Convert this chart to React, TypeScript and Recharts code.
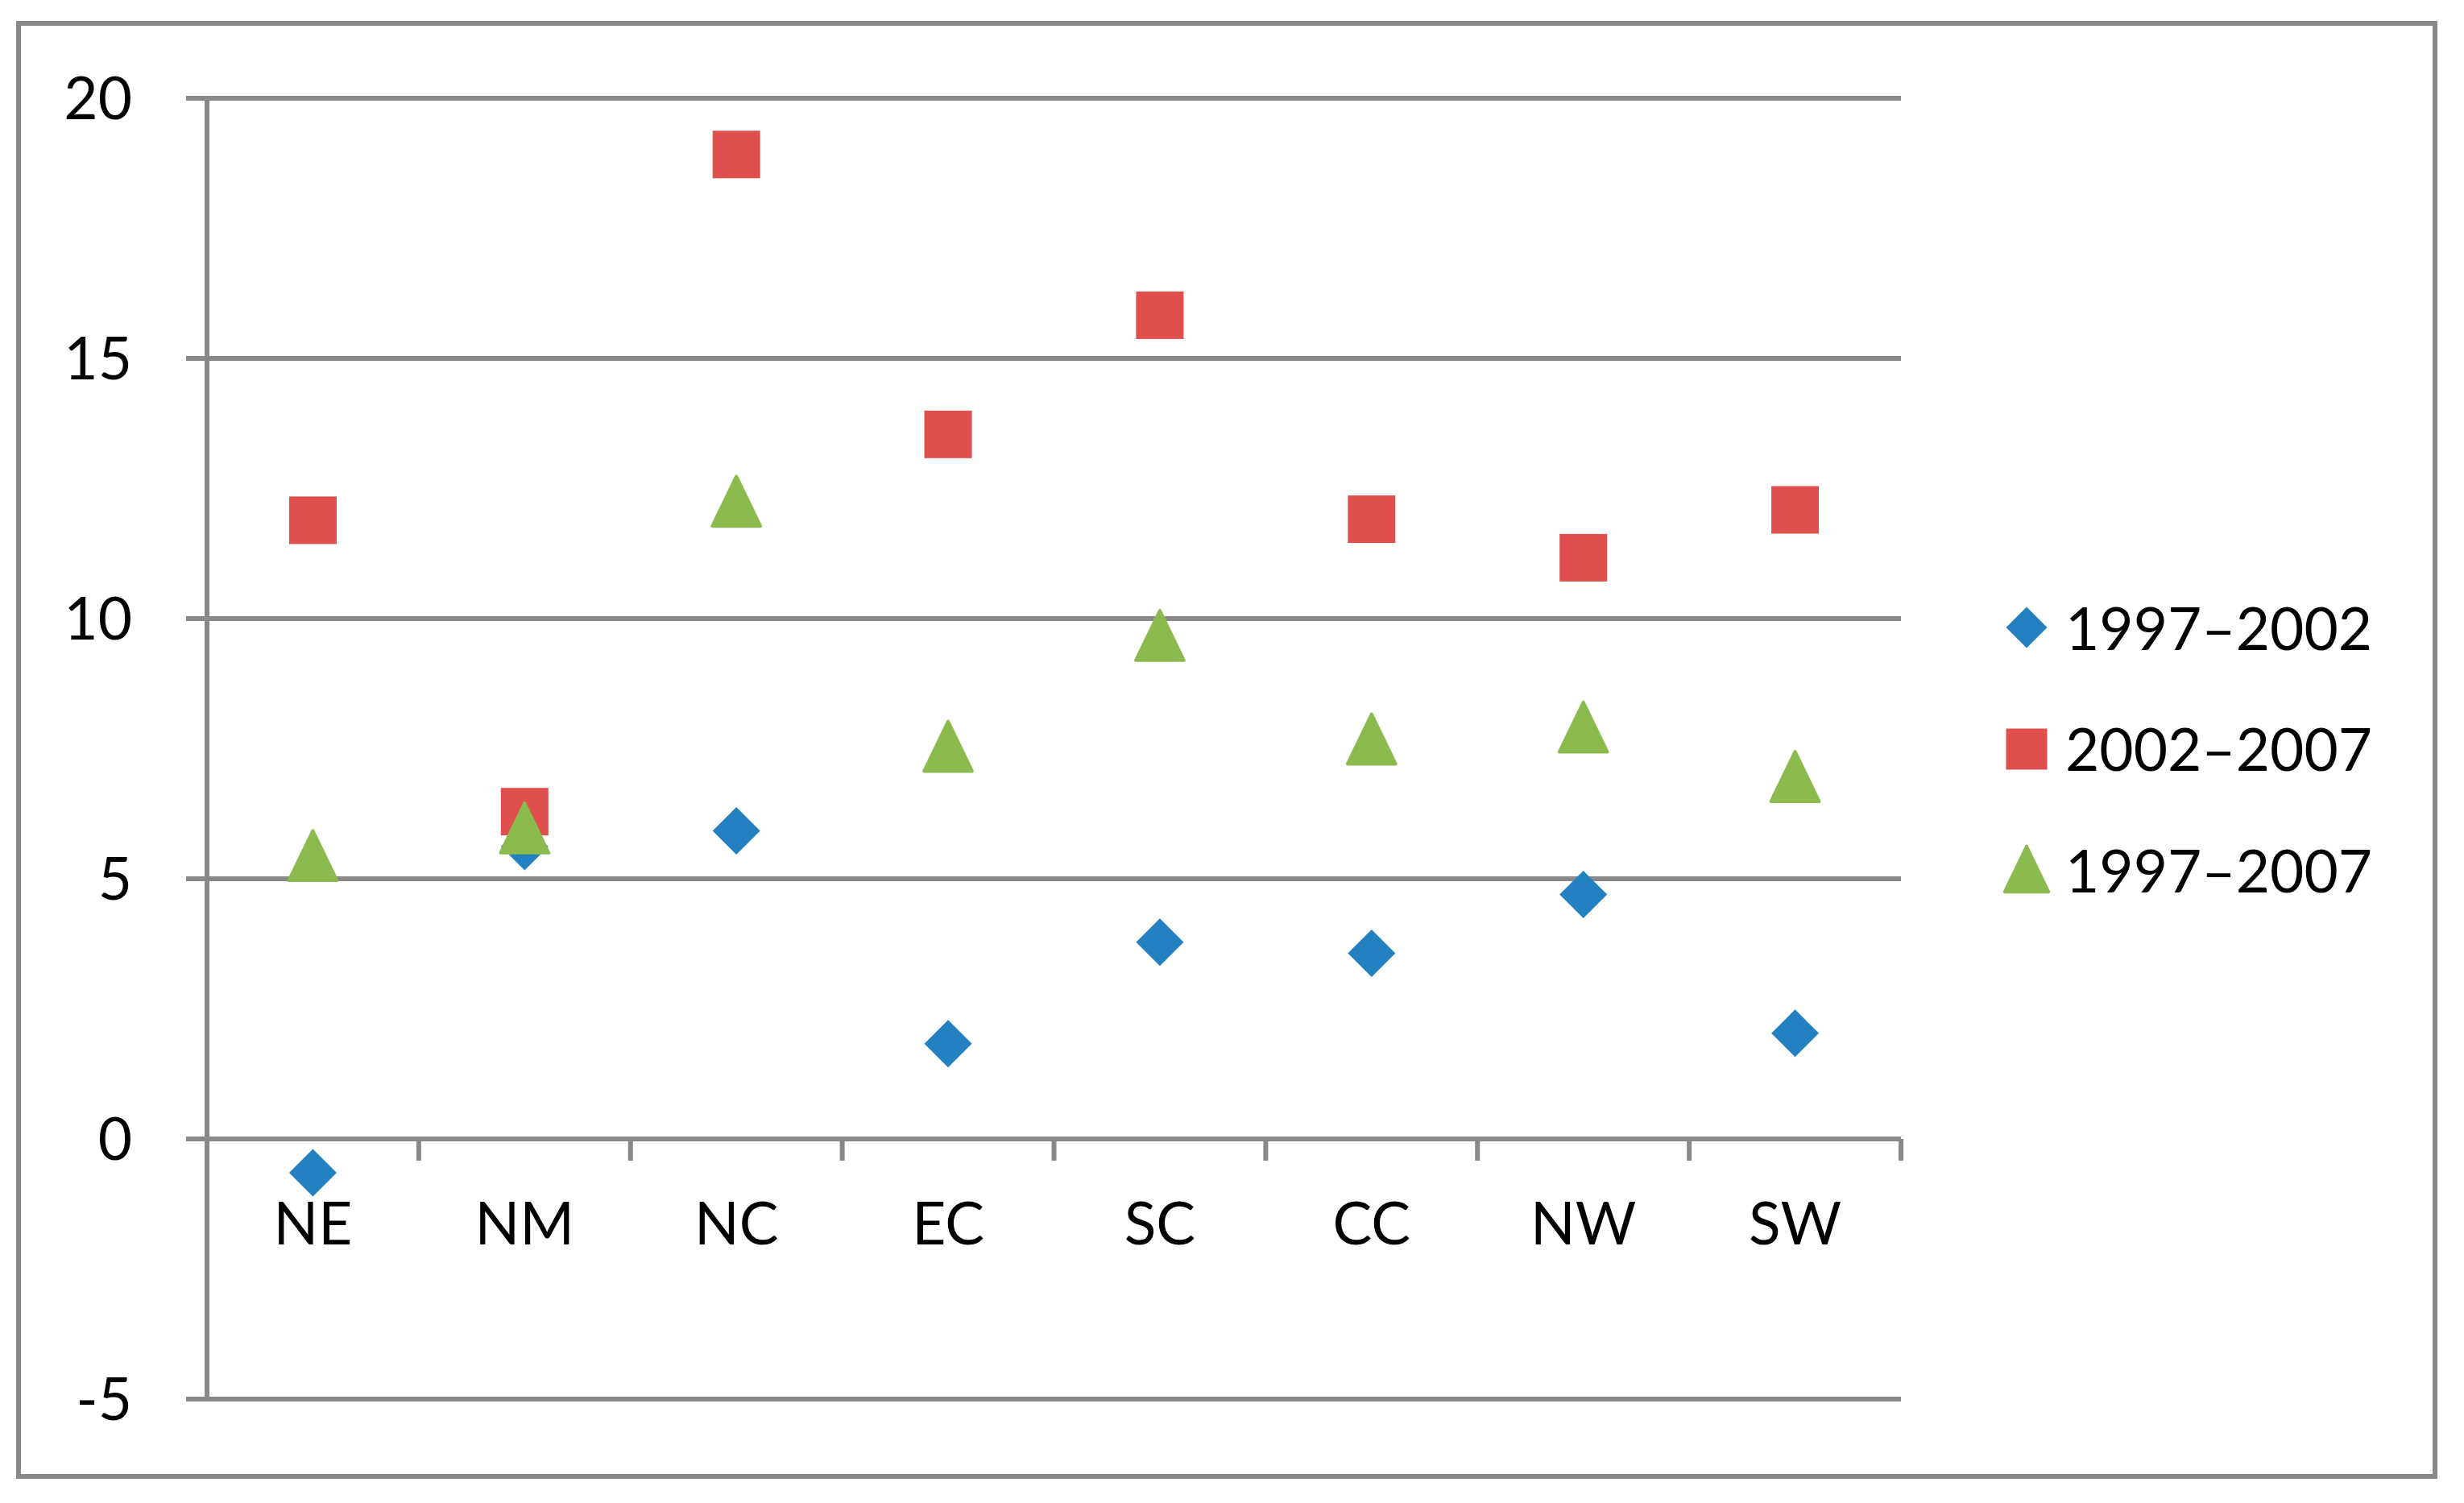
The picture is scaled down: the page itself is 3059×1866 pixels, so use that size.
import React from "react";
import {
  ComposedChart,
  Line,
  XAxis,
  YAxis,
  CartesianGrid,
  Legend,
} from "recharts";

const regions = ["NE", "NM", "NC", "EC", "SC", "CC", "NW", "SW"];
const growth9702 = [-0.65, 5.62, 5.92, 1.83, 3.78, 3.57, 4.7, 2.03];
const growth0207 = [11.89, 6.29, 18.92, 13.54, 15.83, 11.91, 11.17, 12.09];
const growth9707 = [5.43, 5.96, 12.24, 7.53, 9.66, 7.67, 7.9, 6.95];
const yTicks = [-5, 0, 5, 10, 15, 20];

const series = [
  { key: "a", name: "1997–2002", color: "#2481c1", shape: "diamond" },
  { key: "b", name: "2002–2007", color: "#de4f4e", shape: "square" },
  { key: "c", name: "1997–2007", color: "#8bbb4f", shape: "triangle" },
];

const data = regions.map((name, i) => ({
  name,
  a: growth9702[i],
  b: growth0207[i],
  c: growth9707[i],
}));

const W = 3059;
const H = 1866;
const PLOT = { left: 257, top: 122, right: 2360, bottom: 1737 };
const BAND = (PLOT.right - PLOT.left) / regions.length;
const Y_MIN = -5;
const Y_MAX = 20;
const GRAY = "#898989";
const FONT = "Lato, 'Open Sans', sans-serif";
const FONT_SIZE = 73;

function Marker({ shape, cx, cy, color, size }: any) {
  const h = size / 2;
  if (shape === "diamond") {
    return (
      <polygon
        points={`${cx},${cy - h} ${cx + h},${cy} ${cx},${cy + h} ${cx - h},${cy}`}
        fill={color}
      />
    );
  }
  if (shape === "square") {
    return <rect x={cx - h} y={cy - h} width={size} height={size} fill={color} />;
  }
  const t = h * 1.08;
  return (
    <polygon
      points={`${cx},${cy - t} ${cx + t - 2},${cy + t - 2} ${cx - t + 2},${cy + t - 2}`}
      fill={color}
      stroke={color}
      strokeWidth={4}
      strokeLinejoin="round"
    />
  );
}

function makeDot(s: any) {
  return (props: any) => {
    const { cx, cy, index } = props;
    if (cx == null || cy == null) return <g key={`${s.key}-${index}`} />;
    return (
      <g key={`${s.key}-${index}`}>
        <Marker shape={s.shape} cx={cx} cy={cy} color={s.color} size={59} />
      </g>
    );
  };
}

// category label sits under the zero line, tick marks at band boundaries
function CategoryTick(props: any) {
  const { x, payload } = props;
  const plotH = PLOT.bottom - PLOT.top;
  const zeroY = PLOT.bottom - (plotH * (0 - Y_MIN)) / (Y_MAX - Y_MIN);
  return (
    <g>
      <line
        x1={x + BAND / 2}
        x2={x + BAND / 2}
        y1={zeroY}
        y2={zeroY + 27}
        stroke={GRAY}
        strokeWidth={6}
      />
      <text
        x={x}
        y={zeroY + 131}
        textAnchor="middle"
        fill="#000"
        fontSize={FONT_SIZE}
        fontFamily={FONT}
      >
        {payload.value}
      </text>
    </g>
  );
}

function LegendBox() {
  return (
    <div style={{ display: "flex", flexDirection: "column" }}>
      {series.map((s) => (
        <div
          key={s.key}
          style={{ display: "flex", alignItems: "center", height: 150.5 }}
        >
          <svg width={72} height={72} style={{ display: "block" }}>
            <Marker
              shape={s.shape}
              cx={36}
              cy={36}
              color={s.color}
              size={s.shape === "triangle" ? 54 : 51}
            />
          </svg>
          <span
            style={{
              marginLeft: 12,
              fontSize: FONT_SIZE,
              lineHeight: 1,
              fontFamily: FONT,
              color: "#000",
              whiteSpace: "nowrap",
            }}
          >
            {s.name}
          </span>
        </div>
      ))}
    </div>
  );
}

export default function App() {
  return (
    <div
      style={{
        position: "absolute",
        left: 0,
        top: 0,
        width: W,
        height: H,
        background: "#fff",
      }}
    >
      <div
        style={{
          position: "absolute",
          left: 20,
          top: 26,
          width: 3006,
          height: 1810,
          border: `6px solid ${GRAY}`,
          boxSizing: "border-box",
        }}
      />
      <div style={{ position: "absolute", left: 0, top: 0 }}>
        <ComposedChart
          width={W}
          height={H}
          data={data}
          margin={{
            top: PLOT.top,
            right: W - PLOT.right,
            left: 0,
            bottom: H - PLOT.bottom - 30,
          }}
        >
          <CartesianGrid
            vertical={false}
            stroke={GRAY}
            strokeWidth={6}
            strokeOpacity={1}
          />
          <XAxis
            dataKey="name"
            height={30}
            padding={{ left: BAND / 2, right: BAND / 2 }}
            axisLine={false}
            tickLine={false}
            tickSize={0}
            tickMargin={0}
            interval={0}
            tick={<CategoryTick />}
          />
          <YAxis
            width={PLOT.left}
            domain={[Y_MIN, Y_MAX]}
            ticks={yTicks}
            interval={0}
            axisLine={{ stroke: GRAY, strokeWidth: 6 }}
            tickLine={{ stroke: GRAY, strokeWidth: 6 }}
            tickSize={26}
            tickMargin={67}
            tick={{ fill: "#000", fontSize: FONT_SIZE, fontFamily: FONT }}
          />
          <Legend
            layout="vertical"
            align="center"
            verticalAlign="middle"
            wrapperStyle={{ left: 2480, top: 704, width: 560 }}
            content={() => <LegendBox />}
          />
          {series.map((s) => (
            <Line
              key={s.key}
              dataKey={s.key}
              name={s.name}
              stroke="none"
              dot={makeDot(s)}
              activeDot={false}
              isAnimationActive={false}
            />
          ))}
        </ComposedChart>
      </div>
    </div>
  );
}
